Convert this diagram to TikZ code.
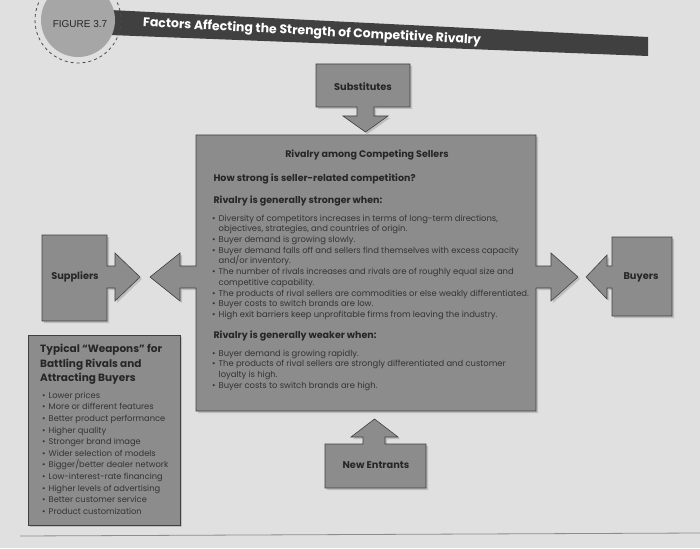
\documentclass[tikz,border=0pt]{standalone}
\usepackage{fontspec}
\setmainfont{Poppins}
\newfontfamily\arialfont{Liberation Sans}
\usetikzlibrary{shadows}

\newcommand{\bul}{\makebox[6.5pt][l]{\textbullet}}
\newcommand{\hang}{\hspace*{6.5pt}}

\begin{document}
\begin{tikzpicture}[x=1pt, y=-1pt,
    panel/.style={draw=black!75, fill=black!45, line width=0.6pt, drop shadow={opacity=0.35, shadow xshift=2pt, shadow yshift=-2pt}},
    boxlabel/.style={font=\fontsize{9.8}{12}\selectfont\bfseries, text=black!85},
    head/.style={anchor=base west, font=\fontsize{9.5}{11}\selectfont\bfseries, text=black!85},
    items/.style={anchor=north west, inner sep=0pt, align=left, font=\fontsize{8.4}{10.7}\selectfont, text=black!80}
]

\useasboundingbox (0,0) rectangle (700,548);
\fill[black!12] (0,0) rectangle (700,548);
\draw[black!45, line width=0.8pt] (20,536) -- (700,533);

% Title banner
\fill[black!75] (110,10) -- (648,37) -- (648,56) -- (110,35) -- cycle;
\node[rotate=-3, text=white, font=\fontsize{12.5}{15}\selectfont\bfseries] (title) at (312,32) {Factors Affecting the Strength of Competitive Rivalry};
\fill[black!35] (78,20) circle (37);
\draw[black!70, dashed, line width=0.8pt] (78,20) circle (43);
\node[font=\arialfont\fontsize{10}{12}\selectfont, text=black!85] (fig) at (80,24) {FIGURE 3.7};

% Substitutes
\draw[panel] (316,64) -- (410,64) -- (410,107) -- (374,107) -- (374,116) -- (388,116) -- (365.5,132)
    -- (343,116) -- (357,116) -- (357,107) -- (316,107) -- cycle;
\node[boxlabel] (subst) at (363,87) {Substitutes};

% Rivalry box with arrows
\draw[panel] (196,135) -- (536,135) -- (536,266) -- (551,266) -- (551,253) -- (578,277) -- (551,301)
    -- (551,288) -- (536,288) -- (536,411) -- (196,411) -- (196,288) -- (180,288) -- (180,301)
    -- (150,277) -- (180,253) -- (180,266) -- (196,266) -- cycle;
\node[font=\fontsize{9.5}{11}\selectfont\bfseries, text=black!85] (rivalry) at (367,155) {Rivalry among Competing Sellers};
\node[head] (howstrong) at (210,181) {How strong is seller-related competition?};
\node[head] (stronger) at (210,203) {Rivalry is generally stronger when:};
\node[items] (strongitems) at (212,214.5) {%
\bul Diversity of competitors increases in terms of long-term directions,\\
\hang objectives, strategies, and countries of origin.\\
\bul Buyer demand is growing slowly.\\
\bul Buyer demand falls off and sellers find themselves with excess capacity\\
\hang and/or inventory.\\
\bul The number of rivals increases and rivals are of roughly equal size and\\
\hang competitive capability.\\
\bul The products of rival sellers are commodities or else weakly differentiated.\\
\bul Buyer costs to switch brands are low.\\
\bul High exit barriers keep unprofitable firms from leaving the industry.};
\node[head] (weaker) at (210,338) {Rivalry is generally weaker when:};
\node[items] (weakitems) at (212,349.5) {%
\bul Buyer demand is growing rapidly.\\
\bul The products of rival sellers are strongly differentiated and customer\\
\hang loyalty is high.\\
\bul Buyer costs to switch brands are high.};

% Suppliers
\draw[panel] (42,235) -- (107,235) -- (107,266) -- (115,266) -- (115,253) -- (140,277) -- (115,301)
    -- (115,288) -- (107,288) -- (107,321) -- (42,321) -- cycle;
\node[boxlabel] (suppliers) at (75,277) {Suppliers};

% Buyers
\draw[panel] (612,237) -- (672,237) -- (672,316) -- (612,316) -- (612,288) -- (607,288) -- (607,299)
    -- (586,277) -- (607,255) -- (607,266) -- (612,266) -- cycle;
\node[boxlabel] (buyers) at (641,277) {Buyers};

% New entrants
\draw[panel] (325,444) -- (363,444) -- (363,437) -- (351,437) -- (374.5,419) -- (398,437) -- (385,437)
    -- (385,444) -- (426,444) -- (426,488) -- (325,488) -- cycle;
\node[boxlabel] (entrants) at (376,465) {New Entrants};

% Weapons
\draw[panel] (28,335) rectangle (180,525);
\node[anchor=north west, inner sep=0pt, align=left, font=\fontsize{10.5}{14.5}\selectfont\bfseries, text=black!85] (weapons) at (40,344)
    {Typical “Weapons” for\\ Battling Rivals and\\ Attracting Buyers};
\node[items, font=\fontsize{8.3}{11.6}\selectfont] (weaponitems) at (42,391.7) {%
\bul Lower prices\\
\bul More or different features\\
\bul Better product performance\\
\bul Higher quality\\
\bul Stronger brand image\\
\bul Wider selection of models\\
\bul Bigger/better dealer network\\
\bul Low-interest-rate financing\\
\bul Higher levels of advertising\\
\bul Better customer service\\
\bul Product customization};

\end{tikzpicture}
\end{document}
